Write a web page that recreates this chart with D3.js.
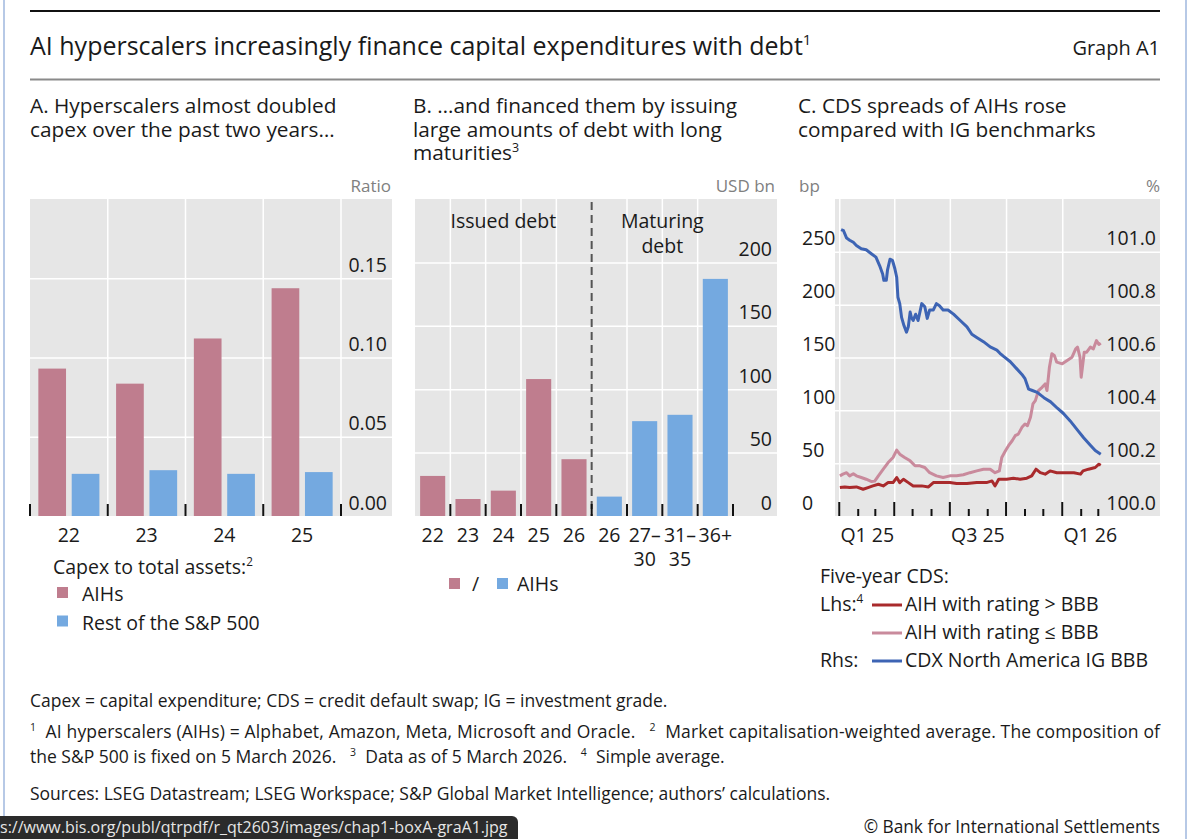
<!DOCTYPE html>
<html>
<head>
<meta charset="utf-8">
<script src="https://cdn.jsdelivr.net/npm/d3@7"></script>
<style>
  body { margin: 0; background: #fff; }
  svg { display: block; font-family: "Open Sans", sans-serif; }
</style>
</head>
<body>
<div id="container"></div>
<script>
// ---- Data ----
// Panel A: capex to total assets
const capexYears = ["22", "23", "24", "25"];
const capexAIHs = [0.093, 0.0835, 0.112, 0.1437];
const capexRest = [0.0266, 0.0289, 0.0266, 0.0277];
const capexTicks = [0, 0.05, 0.10, 0.15];

// Panel B: issued and maturing debt, USD bn
const debtKeys = ["i22", "i23", "i24", "i25", "i26", "m26", "m27", "m31", "m36"];
const debtLabels = [["22"], ["23"], ["24"], ["25"], ["26"], ["26"], ["27–", "30"], ["31–", "35"], ["36+"]];
const debtValues = [31.6, 13.4, 20, 108, 44.8, 15.3, 74.8, 79.8, 187];
const debtIssued = [true, true, true, true, true, false, false, false, false];
const debtTicks = [0, 50, 100, 150, 200];

// Panel C: five-year CDS (bp, lhs) and CDX price (%, rhs)
const cdsTicksLeft = [0, 50, 100, 150, 200, 250];
const cdsTicksRight = [100.0, 100.2, 100.4, 100.6, 100.8, 101.0];
const quarterLabels = [["2025-02-15", "Q1 25"], ["2025-08-15", "Q3 25"], ["2026-02-15", "Q1 26"]];

const aihAbove = [
  ["2025-01-02", 26.9], ["2025-01-10", 27.5], ["2025-01-18", 26.9], ["2025-01-29", 27.5], ["2025-02-09", 25.3],
  ["2025-02-17", 26.9], ["2025-02-25", 28.5], ["2025-03-06", 30.0], ["2025-03-14", 28.5], ["2025-03-22", 31.6],
  ["2025-03-30", 31.6], ["2025-04-05", 36.4], ["2025-04-10", 31.6], ["2025-04-16", 34.8], ["2025-04-24", 31.6],
  ["2025-05-02", 28.5], ["2025-05-16", 28.5], ["2025-05-27", 27.5], ["2025-06-04", 31.6], ["2025-06-20", 31.6],
  ["2025-07-01", 31.6], ["2025-07-12", 30.7], ["2025-07-29", 30.7], ["2025-08-14", 31.6], ["2025-08-30", 31.6],
  ["2025-09-08", 33.2], ["2025-09-13", 28.5], ["2025-09-19", 34.8], ["2025-10-02", 34.8], ["2025-10-13", 35.8],
  ["2025-10-24", 34.8], ["2025-11-04", 35.8], ["2025-11-12", 38.0], ["2025-11-19", 44.3], ["2025-11-26", 41.0],
  ["2025-12-04", 39.6], ["2025-12-12", 42.7], ["2025-12-23", 41.0], ["2026-01-09", 41.0], ["2026-01-20", 41.0],
  ["2026-01-31", 39.6], ["2026-02-04", 42.7], ["2026-02-13", 44.3], ["2026-02-24", 45.9], ["2026-03-02", 49.0],
  ["2026-03-05", 48.0]
];

const aihBelow = [
  ["2025-01-02", 38], ["2025-01-07", 39.6], ["2025-01-13", 41], ["2025-01-18", 38], ["2025-01-24", 40],
  ["2025-01-29", 38], ["2025-02-06", 36.4], ["2025-02-14", 34.8], ["2025-02-23", 32.6], ["2025-02-28", 33],
  ["2025-03-06", 38], ["2025-03-14", 44.3], ["2025-03-22", 50.6], ["2025-03-30", 55.4], ["2025-04-05", 62.3],
  ["2025-04-10", 58.5], ["2025-04-18", 55.4], ["2025-04-27", 52.2], ["2025-05-05", 47.5], ["2025-05-13", 47.5],
  ["2025-05-21", 45.9], ["2025-05-29", 41], ["2025-06-09", 38], ["2025-06-20", 36.4], ["2025-07-01", 38],
  ["2025-07-12", 38], ["2025-07-23", 39], ["2025-08-03", 41], ["2025-08-14", 42.7], ["2025-08-25", 44.3],
  ["2025-09-05", 44.3], ["2025-09-13", 41], ["2025-09-20", 42.7], ["2025-09-24", 55.4], ["2025-09-30", 61.7],
  ["2025-10-05", 66.5], ["2025-10-11", 71.2], ["2025-10-16", 76], ["2025-10-21", 77.5], ["2025-10-27", 83.9],
  ["2025-11-01", 87], ["2025-11-05", 85.4], ["2025-11-10", 93.4], ["2025-11-14", 106], ["2025-11-18", 109.2],
  ["2025-11-23", 118.7], ["2025-11-29", 121.8], ["2025-12-04", 125], ["2025-12-07", 118.7], ["2025-12-11", 140.8],
  ["2025-12-15", 153.5], ["2025-12-19", 151.9], ["2025-12-23", 145.6], ["2026-01-01", 144], ["2026-01-09", 147.2],
  ["2026-01-17", 150.3], ["2026-01-23", 158.2], ["2026-01-26", 159.8], ["2026-01-30", 150.3], ["2026-02-01", 131.3],
  ["2026-02-03", 140.8], ["2026-02-06", 155], ["2026-02-10", 155], ["2026-02-16", 159.8], ["2026-02-21", 158.2],
  ["2026-02-26", 166], ["2026-03-02", 162.3], ["2026-03-05", 163.6]
];

const cdxBBB = [
  ["2025-01-04", 101.084], ["2025-01-08", 101.08], ["2025-01-13", 101.052], ["2025-01-18", 101.044], ["2025-01-24", 101.036],
  ["2025-01-29", 101.024], ["2025-02-06", 101.012], ["2025-02-14", 101.008], ["2025-02-23", 100.992], ["2025-03-02", 100.98],
  ["2025-03-08", 100.948], ["2025-03-13", 100.916], ["2025-03-15", 100.892], ["2025-03-19", 100.892], ["2025-03-21", 100.932],
  ["2025-03-25", 100.972], ["2025-03-29", 100.968], ["2025-04-02", 100.936], ["2025-04-05", 100.904], ["2025-04-07", 100.828],
  ["2025-04-10", 100.804], ["2025-04-13", 100.752], ["2025-04-17", 100.72], ["2025-04-21", 100.696], ["2025-04-24", 100.716],
  ["2025-04-27", 100.772], ["2025-04-29", 100.752], ["2025-05-02", 100.74], ["2025-05-06", 100.764], ["2025-05-10", 100.74],
  ["2025-05-16", 100.804], ["2025-05-21", 100.792], ["2025-05-25", 100.748], ["2025-05-29", 100.78], ["2025-06-04", 100.78],
  ["2025-06-09", 100.804], ["2025-06-14", 100.796], ["2025-06-20", 100.78], ["2025-06-28", 100.78], ["2025-07-07", 100.764],
  ["2025-07-18", 100.74], ["2025-07-29", 100.716], ["2025-08-06", 100.688], ["2025-08-14", 100.676], ["2025-08-25", 100.66],
  ["2025-09-05", 100.64], ["2025-09-16", 100.628], ["2025-09-21", 100.616], ["2025-09-27", 100.604], ["2025-10-08", 100.584],
  ["2025-10-19", 100.556], ["2025-10-27", 100.536], ["2025-11-01", 100.52], ["2025-11-07", 100.48], ["2025-11-12", 100.476],
  ["2025-11-21", 100.468], ["2025-12-02", 100.448], ["2025-12-13", 100.432], ["2025-12-24", 100.408], ["2026-01-03", 100.388],
  ["2026-01-14", 100.36], ["2026-01-25", 100.328], ["2026-02-05", 100.296], ["2026-02-16", 100.268], ["2026-02-24", 100.248],
  ["2026-03-05", 100.234]
];

// ---- Layout and styles ----
const W = 1200, H = 839;
const plotTop = 199, plotBottom = 516;
const ink = "#1a1a1a", panelGrey = "#e6e6e6", unitGrey = "#808080";
const pink = "#bf7d8e", lightBlue = "#74a9e0";
const redLine = "#a92a2c", pinkLine = "#c98a9c", blueLine = "#3d64b4";
const tickFont = 19.5, legendFont = 19.5, subFont = 20.8, noteFont = 17.5;

const svg = d3.select("#container")
  .append("svg")
  .attr("width", W)
  .attr("height", H);

// helper: text with optional superscripts, parts = [[string, isSup], ...]
function richText(g, x, y, parts, size, anchor) {
  const t = g.append("text")
    .attr("x", x).attr("y", y)
    .attr("font-size", size)
    .attr("fill", ink)
    .attr("text-anchor", anchor || "start")
    .style("white-space", "pre");
  parts.forEach(p => {
    const s = t.append("tspan").text(p[0]);
    if (p[1]) s.attr("font-size", size * 0.6).attr("baseline-shift", "super");
  });
  return t;
}

// helper: style an axis group as BIS-like tick labels
function styleLabels(g) {
  g.attr("font-size", tickFont).attr("font-family", null);
  g.select(".domain").remove();
  g.selectAll(".tick line").remove();
  g.selectAll("text").attr("fill", ink);
}

// ---- Frame, title ----
svg.append("line").attr("x1", 4).attr("x2", 4).attr("y1", 0).attr("y2", H)
  .attr("stroke", "#b7c9e6").attr("stroke-width", 2);
svg.append("line").attr("x1", 1186).attr("x2", 1186).attr("y1", 0).attr("y2", H)
  .attr("stroke", "#b7c9e6").attr("stroke-width", 2);
svg.append("line").attr("x1", 30).attr("x2", 1160).attr("y1", 11).attr("y2", 11)
  .attr("stroke", "#111").attr("stroke-width", 2);
svg.append("line").attr("x1", 30).attr("x2", 1160).attr("y1", 79.5).attr("y2", 79.5)
  .attr("stroke", "#8a8a8a").attr("stroke-width", 2);

richText(svg, 30, 55, [["AI hyperscalers increasingly finance capital expenditures with debt"], ["1", true]], 25);
richText(svg, 1160, 55, [["Graph A1"]], 20, "end");

// panel subtitles
[[30, ["A. Hyperscalers almost doubled", "capex over the past two years…"]],
 [413, ["B. …and financed them by issuing", "large amounts of debt with long", "maturities"]],
 [798, ["C. CDS spreads of AIHs rose", "compared with IG benchmarks"]]
].forEach(([x, lines]) => {
  lines.forEach((l, i) => {
    const parts = [[l]];
    if (l === "maturities") parts.push(["3", true]);
    richText(svg, x, 113 + i * 23.7, parts, subFont);
  });
});

// ---- Panel A ----
const gA = svg.append("g");
const xA = d3.scaleBand().domain(capexYears).range([30, 341]);
const subA = d3.scaleBand().domain(["aih", "rest"]).range([0, xA.bandwidth()])
  .paddingInner(0.17).paddingOuter(0.25);
const yA = d3.scaleLinear().domain([0, 0.2]).range([plotBottom, plotTop]);

gA.append("rect").attr("x", 30).attr("y", plotTop)
  .attr("width", 362).attr("height", plotBottom - plotTop).attr("fill", panelGrey);

// horizontal grid
gA.append("g").attr("transform", "translate(30,0)")
  .call(d3.axisRight(yA).tickValues(capexTicks.slice(1)).tickSize(362).tickFormat(""))
  .call(g => g.select(".domain").remove())
  .call(g => g.selectAll("line").attr("stroke", "#fff").attr("stroke-width", 1.5));

// vertical grid at category boundaries
const boundsA = capexYears.map(d => xA(d)).concat([xA.range()[1]]);
gA.selectAll(".vgrid").data(boundsA.slice(1)).enter().append("line")
  .attr("x1", d => d).attr("x2", d => d).attr("y1", plotTop).attr("y2", plotBottom)
  .attr("stroke", "#fff").attr("stroke-width", 1.5);

// bars
gA.selectAll(".barA").data(capexYears).enter().append("rect")
  .attr("x", d => xA(d) + subA("aih")).attr("width", subA.bandwidth())
  .attr("y", (d, i) => yA(capexAIHs[i])).attr("height", (d, i) => plotBottom - yA(capexAIHs[i]))
  .attr("fill", pink);
gA.selectAll(".barB").data(capexYears).enter().append("rect")
  .attr("x", d => xA(d) + subA("rest")).attr("width", subA.bandwidth())
  .attr("y", (d, i) => yA(capexRest[i])).attr("height", (d, i) => plotBottom - yA(capexRest[i]))
  .attr("fill", lightBlue);

// bottom ticks at boundaries
gA.selectAll(".tickA").data(boundsA).enter().append("line")
  .attr("x1", d => d).attr("x2", d => d).attr("y1", plotBottom - 12).attr("y2", plotBottom)
  .attr("stroke", "#111").attr("stroke-width", 2);

// y labels (right side, sitting above gridlines)
gA.append("g").attr("transform", "translate(387,0)")
  .call(d3.axisRight(yA).tickValues(capexTicks).tickFormat(d3.format(".2f")).tickSize(0))
  .call(styleLabels)
  .call(g => g.selectAll("text").attr("text-anchor", "end").attr("x", 0).attr("dy", null).attr("y", -7));

// x labels
gA.append("g").attr("transform", `translate(0,${plotBottom})`)
  .call(d3.axisBottom(xA).tickSize(0))
  .call(styleLabels)
  .call(g => g.selectAll("text").attr("dy", null).attr("y", 26));

gA.append("text").attr("x", 391).attr("y", 192).attr("text-anchor", "end")
  .attr("font-size", 17).attr("fill", unitGrey).text("Ratio");

// legend A
richText(gA, 53, 574, [["Capex to total assets:"], ["2", true]], legendFont);
[["AIHs", pink, 601], ["Rest of the S&P 500", lightBlue, 629.5]].forEach(([label, c, y]) => {
  gA.append("rect").attr("x", 57).attr("y", y - 14).attr("width", 11).attr("height", 11).attr("fill", c);
  richText(gA, 82, y, [[label]], legendFont);
});

// ---- Panel B ----
const gB = svg.append("g");
const xB = d3.scaleBand().domain(debtKeys).range([415, 733]).paddingInner(0.29).paddingOuter(0.145);
const stepB = xB.step();
const yB = d3.scaleLinear().domain([0, 250]).range([plotBottom, plotTop]);

gB.append("rect").attr("x", 415).attr("y", plotTop)
  .attr("width", 362).attr("height", plotBottom - plotTop).attr("fill", panelGrey);

gB.append("g").attr("transform", "translate(415,0)")
  .call(d3.axisRight(yB).tickValues(debtTicks.slice(1)).tickSize(362).tickFormat(""))
  .call(g => g.select(".domain").remove())
  .call(g => g.selectAll("line").attr("stroke", "#fff").attr("stroke-width", 1.5));

// band boundaries (left edge of each band after the first, plus the right end)
const boundsB = debtKeys.slice(1).map(k => xB(k) - xB.paddingInner() * stepB / 2).concat([733]);
const splitX = boundsB[4];
gB.selectAll(".vgridB").data(boundsB.slice(0, 8).filter((d, i) => i !== 4)).enter().append("line")
  .attr("x1", d => d).attr("x2", d => d).attr("y1", plotTop).attr("y2", plotBottom)
  .attr("stroke", "#fff").attr("stroke-width", 1.5);

gB.selectAll(".barDebt").data(debtKeys).enter().append("rect")
  .attr("x", d => xB(d)).attr("width", xB.bandwidth())
  .attr("y", (d, i) => yB(debtValues[i])).attr("height", (d, i) => plotBottom - yB(debtValues[i]))
  .attr("fill", (d, i) => debtIssued[i] ? pink : lightBlue);

// dashed separator between issued and maturing
gB.append("line").attr("x1", splitX).attr("x2", splitX).attr("y1", plotTop + 3).attr("y2", plotBottom)
  .attr("stroke", "#555").attr("stroke-width", 2).attr("stroke-dasharray", "8,5");

gB.selectAll(".tickB").data(boundsB).enter().append("line")
  .attr("x1", d => d).attr("x2", d => d).attr("y1", plotBottom - 12).attr("y2", plotBottom)
  .attr("stroke", "#111").attr("stroke-width", 2);

gB.append("g").attr("transform", "translate(772,0)")
  .call(d3.axisRight(yB).tickValues(debtTicks).tickSize(0))
  .call(styleLabels)
  .call(g => g.selectAll("text").attr("text-anchor", "end").attr("x", 0).attr("dy", null).attr("y", -7));

gB.append("g").attr("transform", `translate(0,${plotBottom})`)
  .call(d3.axisBottom(xB).tickSize(0).tickFormat(""))
  .call(styleLabels)
  .call(g => g.selectAll("text").attr("dy", null).attr("y", 26).each(function (d) {
    const lines = debtLabels[debtKeys.indexOf(d)];
    const t = d3.select(this);
    lines.forEach((l, i) => t.append("tspan").attr("x", 0).attr("y", 26 + i * 24).text(l));
  }));

const issuedMid = (415 + splitX) / 2, maturingMid = (splitX + 733) / 2;
richText(gB, issuedMid, 228, [["Issued debt"]], legendFont, "middle");
richText(gB, maturingMid, 228, [["Maturing"]], legendFont, "middle");
richText(gB, maturingMid, 253, [["debt"]], legendFont, "middle");

gB.append("text").attr("x", 775).attr("y", 192).attr("text-anchor", "end")
  .attr("font-size", 17).attr("fill", unitGrey).text("USD bn");

// legend B
gB.append("rect").attr("x", 449).attr("y", 578).attr("width", 11).attr("height", 11).attr("fill", pink);
richText(gB, 472, 591, [["/"]], legendFont);
gB.append("rect").attr("x", 497).attr("y", 578).attr("width", 11).attr("height", 11).attr("fill", lightBlue);
richText(gB, 517, 591, [["AIHs"]], legendFont);

// ---- Panel C ----
const gC = svg.append("g");
const parse = d3.timeParse("%Y-%m-%d");
const xC = d3.scaleTime().domain([parse("2024-12-25"), parse("2026-06-10")]).range([835, 1160]);
const yL = d3.scaleLinear().domain([0, 300]).range([plotBottom, plotTop]);
const yR = d3.scaleLinear().domain([100.0, 101.2]).range([plotBottom, plotTop]);

gC.append("rect").attr("x", 835).attr("y", plotTop)
  .attr("width", 325).attr("height", plotBottom - plotTop).attr("fill", panelGrey);

gC.append("g").attr("transform", "translate(835,0)")
  .call(d3.axisRight(yL).tickValues(cdsTicksLeft.slice(1)).tickSize(325).tickFormat(""))
  .call(g => g.select(".domain").remove())
  .call(g => g.selectAll("line").attr("stroke", "#fff").attr("stroke-width", 1.5));

const quarterStarts = d3.timeMonth.every(3).range(parse("2025-01-01"), parse("2026-01-02"));
const monthStarts = d3.timeMonth.range(parse("2025-01-01"), parse("2026-03-02"));

gC.append("g").attr("transform", `translate(0,${plotTop})`)
  .call(d3.axisBottom(xC).tickValues(quarterStarts).tickSize(plotBottom - plotTop).tickFormat(""))
  .call(g => g.select(".domain").remove())
  .call(g => g.selectAll("line").attr("stroke", "#fff").attr("stroke-width", 1.5));

// lines
const lineL = d3.line().x(d => xC(parse(d[0]))).y(d => yL(d[1]));
const lineR = d3.line().x(d => xC(parse(d[0]))).y(d => yR(d[1]));
gC.append("path").datum(aihBelow).attr("d", lineL)
  .attr("fill", "none").attr("stroke", pinkLine).attr("stroke-width", 3).attr("stroke-linejoin", "round");
gC.append("path").datum(aihAbove).attr("d", lineL)
  .attr("fill", "none").attr("stroke", redLine).attr("stroke-width", 3).attr("stroke-linejoin", "round");
gC.append("path").datum(cdxBBB).attr("d", lineR)
  .attr("fill", "none").attr("stroke", blueLine).attr("stroke-width", 3).attr("stroke-linejoin", "round");

// month ticks: long at quarter starts
gC.selectAll(".tickC").data(monthStarts).enter().append("line")
  .attr("x1", d => xC(d)).attr("x2", d => xC(d))
  .attr("y1", d => d.getMonth() % 3 === 0 ? plotBottom - 14 : plotBottom - 7).attr("y2", plotBottom)
  .attr("stroke", "#111").attr("stroke-width", 2);

// left labels (left-aligned) and right labels (right-aligned)
gC.append("g").attr("transform", "translate(802,0)")
  .call(d3.axisRight(yL).tickValues(cdsTicksLeft).tickSize(0))
  .call(styleLabels)
  .call(g => g.selectAll("text").attr("text-anchor", "start").attr("x", 0).attr("dy", null).attr("y", -7));
gC.append("g").attr("transform", "translate(1156,0)")
  .call(d3.axisRight(yR).tickValues(cdsTicksRight).tickFormat(d3.format(".1f")).tickSize(0))
  .call(styleLabels)
  .call(g => g.selectAll("text").attr("text-anchor", "end").attr("x", 0).attr("dy", null).attr("y", -7));

gC.append("g").attr("transform", `translate(0,${plotBottom})`)
  .call(d3.axisBottom(xC).tickValues(quarterLabels.map(d => parse(d[0]))).tickSize(0)
    .tickFormat((d, i) => quarterLabels[i][1]))
  .call(styleLabels)
  .call(g => g.selectAll("text").attr("dy", null).attr("y", 26));

gC.append("text").attr("x", 799).attr("y", 192).attr("font-size", 17).attr("fill", unitGrey).text("bp");
gC.append("text").attr("x", 1160).attr("y", 192).attr("text-anchor", "end")
  .attr("font-size", 17).attr("fill", unitGrey).text("%");

// legend C
richText(gC, 820, 583, [["Five-year CDS:"]], legendFont);
richText(gC, 820, 611, [["Lhs:"], ["4", true]], legendFont);
richText(gC, 820, 667, [["Rhs:"]], legendFont);
[["AIH with rating > BBB", redLine, 611], ["AIH with rating ≤ BBB", pinkLine, 639],
 ["CDX North America IG BBB", blueLine, 667]].forEach(([label, c, y]) => {
  gC.append("line").attr("x1", 872).attr("x2", 902).attr("y1", y - 6).attr("y2", y - 6)
    .attr("stroke", c).attr("stroke-width", 3);
  richText(gC, 905, y, [[label]], legendFont);
});

// ---- Footnotes ----
const fn = svg.append("g");
richText(fn, 30, 707, [["Capex = capital expenditure; CDS = credit default swap; IG = investment grade."]], noteFont);
richText(fn, 30, 738, [["1", true], ["  AI hyperscalers (AIHs) = Alphabet, Amazon, Meta, Microsoft and Oracle.   "], ["2", true],
  ["  Market capitalisation-weighted average. The composition of"]], noteFont)
  .attr("textLength", 1130).attr("lengthAdjust", "spacing");
richText(fn, 30, 763, [["the S&P 500 is fixed on 5 March 2026.   "], ["3", true], ["  Data as of 5 March 2026.   "],
  ["4", true], ["  Simple average."]], noteFont);
richText(fn, 30, 800, [["Sources: LSEG Datastream; LSEG Workspace; S&P Global Market Intelligence; authors’ calculations."]], noteFont);
richText(fn, 1160, 833, [["© Bank for International Settlements"]], 17.3, "end");

// browser status bar overlay at the bottom left
fn.append("rect").attr("x", -10).attr("y", 816).attr("width", 528).attr("height", 40)
  .attr("rx", 6).attr("fill", "#2b2b2b");
fn.append("text").attr("x", 0).attr("y", 833).attr("font-size", 16).attr("fill", "#e6e6e6")
  .text("s://www.bis.org/publ/qtrpdf/r_qt2603/images/chap1-boxA-graA1.jpg");
</script>
</body>
</html>
